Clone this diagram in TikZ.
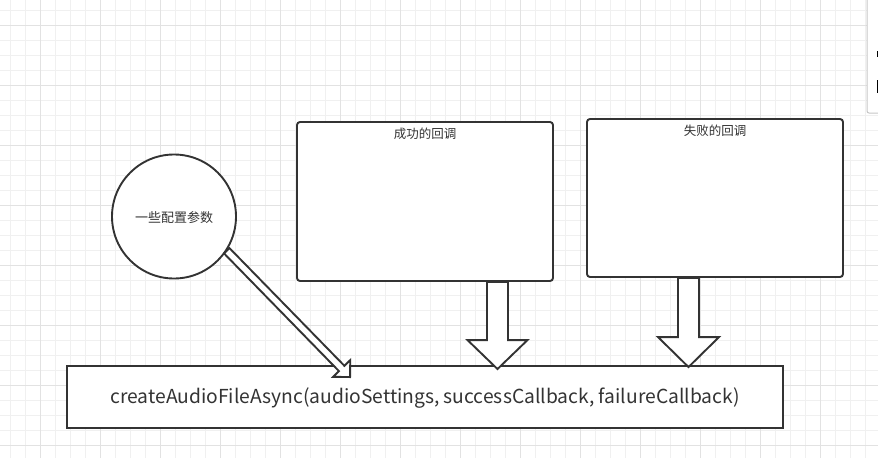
\documentclass[tikz,border=0pt]{standalone}
\usepackage{fontspec}
\setmainfont{Noto Sans CJK SC}
\usetikzlibrary{calc}
\definecolor{ink}{HTML}{333333}
\definecolor{gridminor}{HTML}{F0F0F0}
\definecolor{gridmajor}{HTML}{E2E2E2}
\newcommand\blockarrow[5]{%
  \coordinate (ba-B) at ($(#2)!#5!(#1)$);
  \filldraw[blockarr] ($(#1)!#3!90:(#2)$) -- ($(ba-B)!#3!-90:(#1)$) -- ($(ba-B)!#4!-90:(#1)$) -- (#2)
    -- ($(ba-B)!#4!90:(#1)$) -- ($(ba-B)!#3!90:(#1)$) -- ($(#1)!#3!-90:(#2)$) -- cycle;}
\tikzset{
  shapebox/.style={draw=ink, line width=1.9pt, fill=white, inner sep=0pt},
  blockarr/.style={draw=ink, line width=1.9pt, fill=white, line join=miter},
  label text/.style={text=ink, inner sep=0pt},
}
\begin{document}
\begin{tikzpicture}[x=1pt,y=-1pt]
\useasboundingbox (0,0) rectangle (878,458);
\fill[white] (0,0) rectangle (878,458);
% grid
\foreach \x in {10,25,...,877} \draw[gridminor, line width=1pt] (\x,0) -- (\x,458);
\foreach \y in {10,25,...,457} \draw[gridminor, line width=1pt] (0,\y) -- (878,\y);
\foreach \x in {40,100,...,877} \draw[gridmajor, line width=1pt] (\x,0) -- (\x,458);
\foreach \y in {25,85,...,457} \draw[gridmajor, line width=1pt] (0,\y) -- (878,\y);
% side panel
\draw[draw=black!22, fill=white, line width=1pt, rounded corners=2pt] (867,-5) rectangle (892,113);
\fill[black] (876.8,51) rectangle (878,57);
\fill[black] (876.8,80) rectangle (878,93);
% shapes
\node[shapebox, rounded corners=3pt, minimum width=256pt, minimum height=159pt] (b1) at (425,201.5) {};
\node[shapebox, rounded corners=3pt, minimum width=256pt, minimum height=158pt] (b2) at (715,198) {};
\node[shapebox, circle, minimum size=124pt] (c) at (174,216.5) {};
\node[shapebox, minimum width=716pt, minimum height=62pt] (main) at (425,397) {};
% texts
\node[label text, font=\fontsize{12.5pt}{14pt}\selectfont] (t1) at ($(b1.north)+(0,12.5)$) {成功的回调};
\node[label text, font=\fontsize{12.5pt}{14pt}\selectfont] (t2) at ($(b2.north)+(0,12.5)$) {失败的回调};
\node[label text, font=\fontsize{13pt}{15pt}\selectfont] (tc) at ($(c.center)+(0,1.5)$) {一些配置参数};
\node[label text] (tm) at ($(main.center)+(0,1)$) {\resizebox{629pt}{!}{createAudioFileAsync(audioSettings, successCallback, failureCallback)}};
% arrows
\coordinate (a1s) at ([xshift=72.5pt]b1.south);
\coordinate (a1t) at ([xshift=72.5pt,yshift=-4pt]main.north);
\coordinate (a2s) at ([xshift=-26.5pt]b2.south);
\coordinate (a2t) at ([xshift=263.5pt,yshift=-2pt]main.north);
\coordinate (a3s) at (c.-33);
\coordinate (a3t) at ([xshift=284pt,yshift=-12pt]main.north west);
\blockarrow{a1s}{a1t}{10.5pt}{30pt}{29pt}
\blockarrow{a2s}{a2t}{10.5pt}{30.5pt}{30pt}
\blockarrow{a3s}{a3t}{3.8pt}{12pt}{12pt}
\end{tikzpicture}
\end{document}
